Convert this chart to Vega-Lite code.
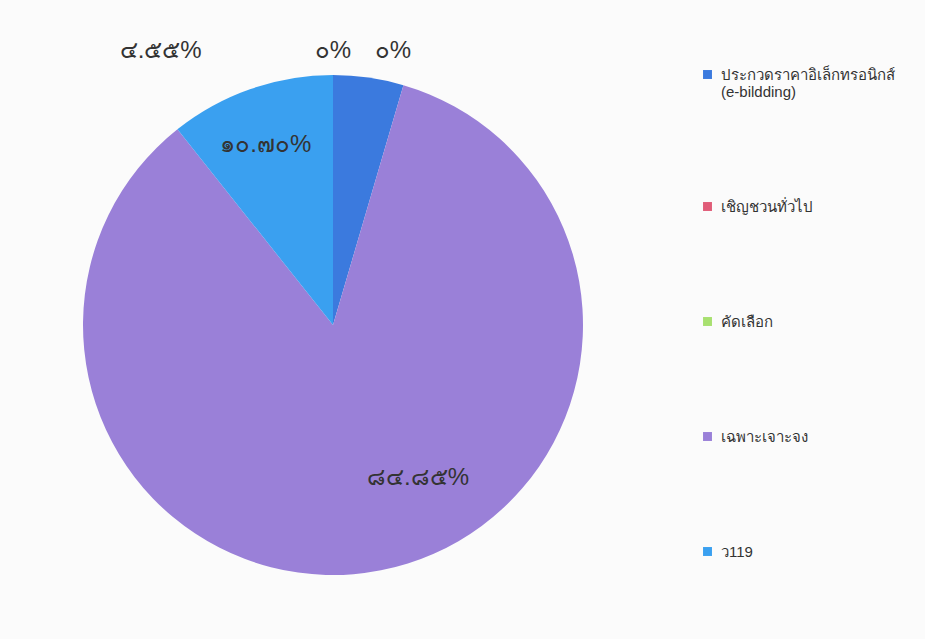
{
  "$schema": "https://vega.github.io/schema/vega-lite/v6.json",
  "autosize": {"type": "none"},
  "width": 500,
  "height": 500,
  "padding": {"left": 83, "top": 75, "right": 342, "bottom": 64},
  "background": "#fbfbfb",
  "config": {"view": {"stroke": null}},
  "data": {
    "values": [
      {"cat": "ประกวดราคาอิเล็กทรอนิกส์ (e-bildding)", "value": 4.55, "label": "๔.๕๕%", "rank": 1},
      {"cat": "เชิญชวนทั่วไป", "value": 0, "label": "๐%", "rank": 2},
      {"cat": "คัดเลือก", "value": 0, "label": "๐%", "rank": 3},
      {"cat": "เฉพาะเจาะจง", "value": 84.85, "label": "๘๔.๘๕%", "rank": 4},
      {"cat": "ว119", "value": 10.70, "label": "๑๐.๗๐%", "rank": 5}
    ]
  },
  "encoding": {
    "theta": {"field": "value", "type": "quantitative", "stack": true},
    "order": {"field": "rank", "type": "quantitative"}
  },
  "layer": [
    {
      "mark": {"type": "arc", "stroke": null},
      "encoding": {
        "color": {
          "field": "cat",
          "type": "nominal",
          "sort": ["ประกวดราคาอิเล็กทรอนิกส์ (e-bildding)", "เชิญชวนทั่วไป", "คัดเลือก", "เฉพาะเจาะจง", "ว119"],
          "scale": {
            "domain": ["ประกวดราคาอิเล็กทรอนิกส์ (e-bildding)", "เชิญชวนทั่วไป", "คัดเลือก", "เฉพาะเจาะจง", "ว119"],
            "range": ["#3b7ade", "#e05c78", "#a8e070", "#9a80d8", "#3aa0f0"]
          },
          "legend": {
            "title": null,
            "orient": "none",
            "legendX": 617,
            "legendY": -8,
            "symbolType": "square",
            "symbolSize": 80,
            "symbolStrokeWidth": 0,
            "labelFontSize": 15,
            "labelColor": "#333333",
            "labelLimit": 300,
            "labelOffset": 6,
            "rowPadding": 99,
            "labelExpr": "datum.label == 'ประกวดราคาอิเล็กทรอนิกส์ (e-bildding)' ? ['ประกวดราคาอิเล็กทรอนิกส์', '(e-bildding)'] : datum.label"
          }
        }
      }
    },
    {
      "mark": {"type": "text", "radius": 300, "dx": -215, "dy": 23, "fontSize": 24, "color": "#333333"},
      "encoding": {"text": {"condition": {"test": "datum.rank == 1", "field": "label"}, "value": ""}}
    },
    {
      "mark": {"type": "text", "radius": 280, "dx": -79, "dy": -5, "fontSize": 24, "color": "#333333"},
      "encoding": {"text": {"condition": {"test": "datum.rank == 2", "field": "label"}, "value": ""}}
    },
    {
      "mark": {"type": "text", "radius": 280, "dx": -19, "dy": -5, "fontSize": 24, "color": "#333333"},
      "encoding": {"text": {"condition": {"test": "datum.rank == 3", "field": "label"}, "value": ""}}
    },
    {
      "mark": {"type": "text", "radius": 172, "dx": 52, "dy": -16, "fontSize": 24, "color": "#333333"},
      "encoding": {"text": {"condition": {"test": "datum.rank == 4", "field": "label"}, "value": ""}}
    },
    {
      "mark": {"type": "text", "radius": 192, "dx": -4, "dy": 1, "fontSize": 24, "color": "#333333"},
      "encoding": {"text": {"condition": {"test": "datum.rank == 5", "field": "label"}, "value": ""}}
    }
  ]
}
